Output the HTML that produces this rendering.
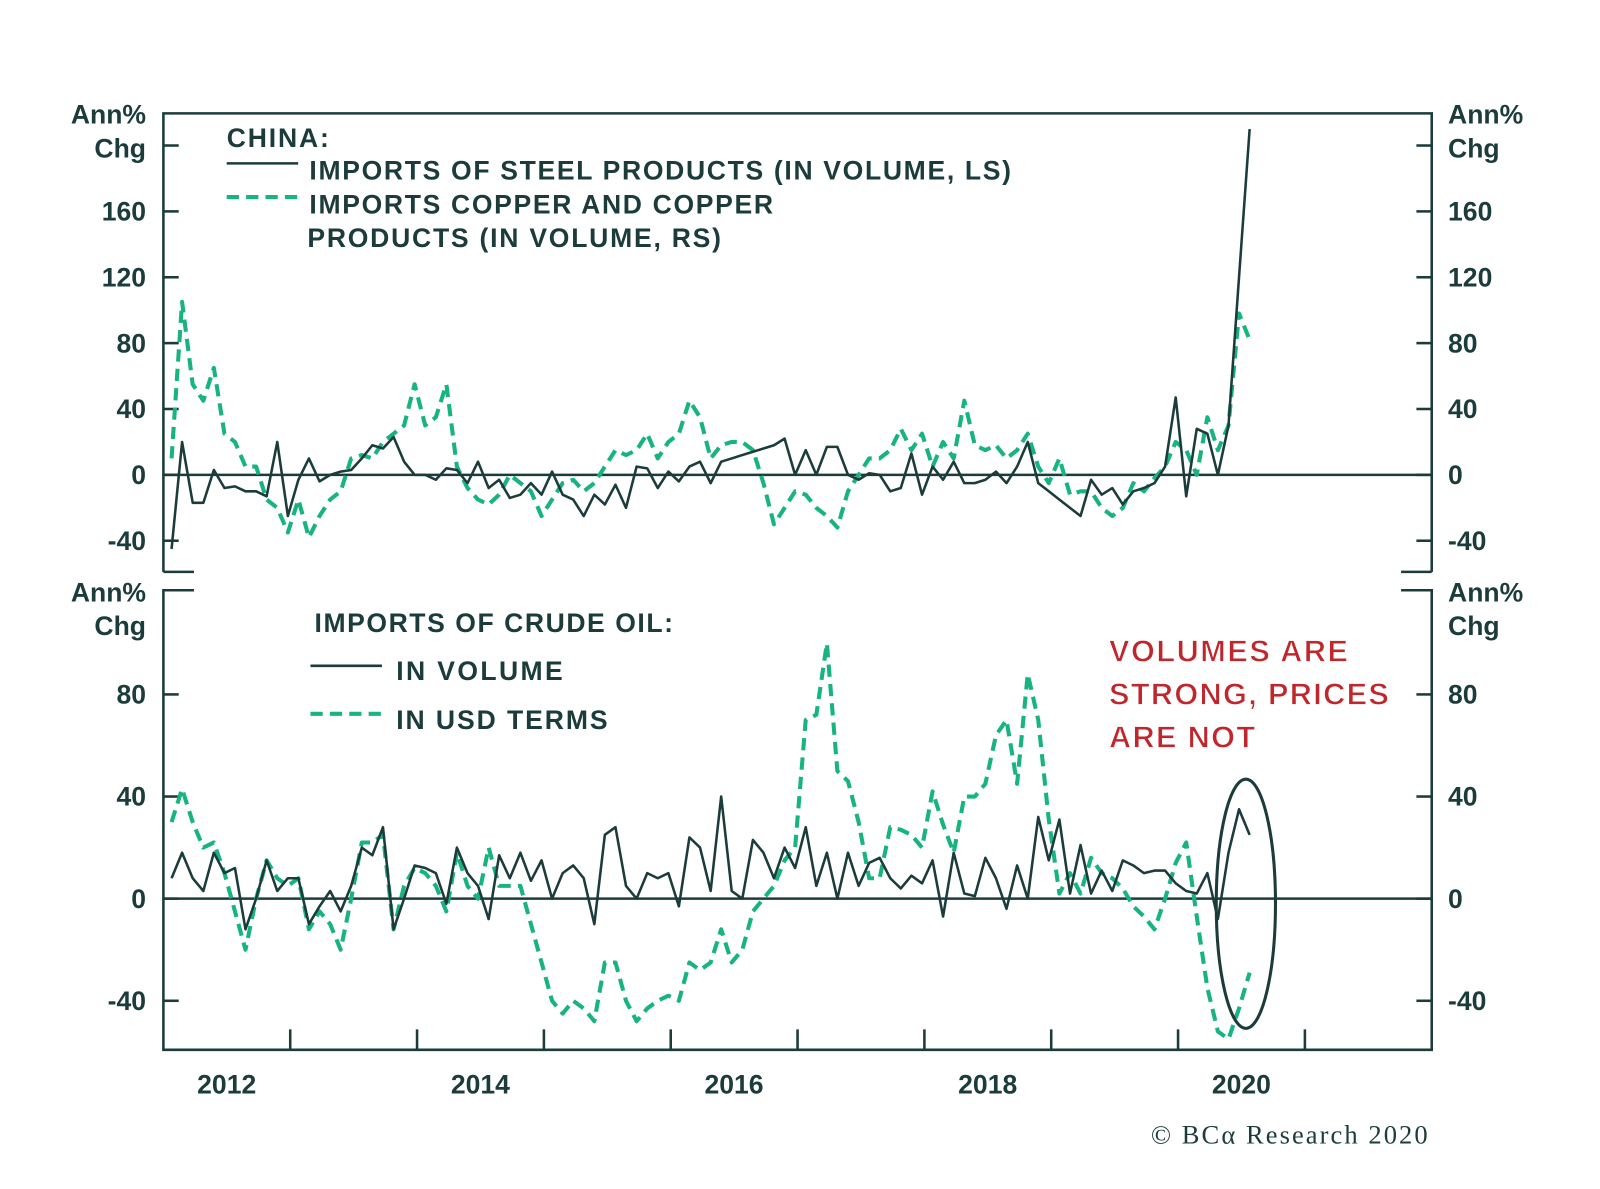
<!DOCTYPE html>
<html><head><meta charset="utf-8"><style>
html,body{margin:0;padding:0;background:#fff;}
svg{display:block;font-family:"Liberation Sans",sans-serif;}
</style></head><body>
<svg id="chart" width="1600" height="1189" viewBox="0 0 1600 1189" xmlns="http://www.w3.org/2000/svg"><g id="root" transform="scale(1.0212)"></g></svg>
<script>
// ---- data ----
const years = ['2012','2014','2016','2018','2020'];
const topTicks = [160,120,80,40,0,-40];
const botTicks = [80,40,0,-40];
const steelVolume = [-45,20,-17,-17,3,-8,-7,-10,-10,-13,20,-25,
 -3,10,-4,0,2,3,10,18,16,23,8,0,
 0,-3,4,3,-5,8,-8,-3,-14,-12,-5,-12,
 2,-12,-15,-25,-12,-18,-6,-20,5,4,-8,2,
 -4,5,8,-5,8,10,12,14,16,18,22,0,
 15,0,17,17,0,-3,1,0,-10,-8,13,-12,5,-3,8,-5,-5,-3,2,-5,5,20,
 -5,-10,-15,-20,-25,-3,-12,-8,-18,-10,-8,-5,5,47,-13,28,25,0,30,120,210];
const copperVolume = [10,105,55,45,65,25,20,5,5,-15,-20,-35,
 -15,-38,-25,-15,-10,10,12,10,20,25,30,55,
 30,35,55,5,-8,-15,-18,-12,0,-5,-10,-25,
 -15,-5,-3,-10,-5,5,15,12,15,25,10,20,
 25,45,35,10,18,20,20,15,-5,-30,-20,-10,
 -12,-20,-25,-32,-10,0,10,10,15,28,15,25,
 5,20,10,45,18,15,18,10,15,25,5,-5,
 10,-12,-10,-10,-20,-25,-20,-5,-10,-2,5,20,
 15,0,35,15,30,98,82];
const oilVolume = [8,18,8,3,18,10,12,-12,0,15,3,8,
 8,-10,-3,3,-5,5,20,17,28,-12,0,13,
 12,10,-2,20,10,5,-8,17,8,18,7,15,
 0,10,13,8,-10,25,28,5,0,10,8,10,
 -3,24,20,3,40,3,0,23,18,8,20,12,
 28,5,18,0,18,5,14,16,8,4,9,6,15,-7,18,2,1,16,8,-4,13,0,32,15,31,2,21,2,11,3,15,13,10,11,11,6,3,2,10,-8,18,35,25];
const oilUsd = [30,43,30,20,22,10,-5,-20,0,15,8,5,
 8,-12,-5,-10,-20,0,22,22,25,-12,5,12,
 10,5,-5,18,5,0,20,5,5,5,-10,-25,
 -40,-45,-40,-43,-48,-25,-25,-40,-48,-43,-40,-38,
 -40,-25,-28,-25,-12,-25,-20,-5,0,5,15,20,
 70,72,100,50,46,30,8,8,28,27,25,20,42,29,18,40,40,45,64,70,45,88,70,31,2,10,2,16,10,8,4,-3,-7,-12,0,14,22,-7,-35,-52,-55,-43,-29];

// ---- scales ----
const X0=160, X1=1402;
const yearX = y => X0 + (y-2012)*124.2;
const monthX = i => 168 + i*10.35;
const topY = v => 465 - v*1.6125;
const botY = v => 880 - v*2.5;
const DARK='#1c3c3c', GREEN='#17b482';
const NS='http://www.w3.org/2000/svg';
const root=document.getElementById('root');


function el(tag,attrs,parent){const e=document.createElementNS(NS,tag);for(const k in attrs)e.setAttribute(k,attrs[k]);(parent||root).appendChild(e);return e;}
function txt(s,x,y,attrs){const t=el('text',Object.assign({x:x,y:y,fill:DARK,'font-size':25,'font-weight':'bold'},attrs||{}));t.textContent=s;return t;}
function fit(t,len){t.setAttribute('textLength',len);t.setAttribute('lengthAdjust','spacing');return t;}

// frames
const frame=el('path',{d:`M${X0},560 L${X0},111 L${X1},111 L${X1},560 M${X0},560 L190,560 M${X1},560 L1372,560
 M190,578 L${X0},578 L${X0},1028 L${X1},1028 L${X1},578 L1372,578`,stroke:DARK,'stroke-width':2.5,fill:'none'});



// zero lines
const z1=el('line',{x1:X0,x2:X1,y1:topY(0),y2:topY(0),stroke:DARK,'stroke-width':2.5});


const z2=el('line',{x1:X0,x2:X1,y1:botY(0),y2:botY(0),stroke:DARK,'stroke-width':2.5});



// y ticks
[200].concat(topTicks).forEach(v=>{
  el('line',{x1:X0,x2:X0+15,y1:topY(v),y2:topY(v),stroke:DARK,'stroke-width':2.5});
  el('line',{x1:X1-15,x2:X1,y1:topY(v),y2:topY(v),stroke:DARK,'stroke-width':2.5});
});
topTicks.forEach(v=>{
  const a=txt(String(v),143,topY(v)+9,{'text-anchor':'end','font-size':26});
  
  
  const b=txt(String(v),1418,topY(v)+9,{'font-size':26});
  
  
});
botTicks.forEach(v=>{
  el('line',{x1:X0,x2:X0+15,y1:botY(v),y2:botY(v),stroke:DARK,'stroke-width':2.5});
  el('line',{x1:X1-15,x2:X1,y1:botY(v),y2:botY(v),stroke:DARK,'stroke-width':2.5});
  const a=txt(String(v),143,botY(v)+9,{'text-anchor':'end','font-size':26});
  
  
  const b=txt(String(v),1418,botY(v)+9,{'font-size':26});
  
  
});
// axis unit titles
[[143,112,'end','Ann%'],[143,145,'end','Chg'],[1418,112,'start','Ann%'],[1418,145,'start','Chg'],
 [143,580,'end','Ann%'],[143,613,'end','Chg'],[1418,580,'start','Ann%'],[1418,613,'start','Chg']].forEach(a=>{
  const t=txt(a[3],a[0],a[1]+9,{'text-anchor':a[2],'font-size':26});
  
  
});

// x ticks + labels
for(let y=2013;y<=2021;y++){
  el('line',{x1:yearX(y),x2:yearX(y),y1:1028,y2:1008,stroke:DARK,'stroke-width':2.5});
}
years.forEach(y=>{
  const t=txt(y,yearX(+y)+62,1071,{'text-anchor':'middle','font-size':26});
  
  
});

// series
function line(arr,yf,color,dash,name){
  const d=arr.map((v,i)=>(i?'L':'M')+monthX(i).toFixed(1)+','+yf(v).toFixed(1)).join(' ');
  const p=el('path',{d:d,fill:'none',stroke:color,'stroke-width':dash?4:2.5,'stroke-dasharray':dash?'12 7':'none','stroke-linejoin':'round'});
  
  
}
line(copperVolume,topY,GREEN,true,'copper-imports-line');
line(steelVolume,topY,DARK,false,'steel-imports-line');
line(oilUsd,botY,GREEN,true,'oil-usd-line');
line(oilVolume,botY,DARK,false,'oil-volume-line');

// legends
const l1=fit(txt('CHINA:',222,144,{'font-size':26}),100);


el('line',{x1:222,x2:292,y1:160,y2:160,stroke:DARK,'stroke-width':2.5});
el('line',{x1:222,x2:292,y1:193,y2:193,stroke:GREEN,'stroke-width':4,'stroke-dasharray':'12 7'});
const l2=fit(txt('IMPORTS OF STEEL PRODUCTS (IN VOLUME, LS)',303,176,{'font-size':26}),687);


const l3=fit(txt('IMPORTS COPPER AND COPPER',303,209,{'font-size':26}),454);


const l4=fit(txt('PRODUCTS (IN VOLUME, RS)',301,242,{'font-size':26}),405);


const l5=fit(txt('IMPORTS OF CRUDE OIL:',308,619,{'font-size':26}),351);


el('line',{x1:304,x2:374,y1:652,y2:652,stroke:DARK,'stroke-width':2.5});
el('line',{x1:304,x2:374,y1:699,y2:699,stroke:GREEN,'stroke-width':4,'stroke-dasharray':'12 7'});
const l6=fit(txt('IN VOLUME',388,666,{'font-size':26}),163);


const l7=fit(txt('IN USD TERMS',388,714,{'font-size':26}),207);



// annotation
[['VOLUMES ARE',234],['STRONG, PRICES',274],['ARE NOT',143]].forEach((s,i)=>{
  const t=fit(txt(s[0],1086,648+i*42,{fill:'#c0272d','font-size':30,'font-weight':'bold','stroke':'#fff','stroke-width':0.8}),s[1]);
  
  
});
const ell=el('ellipse',{cx:1220,cy:885,rx:29,ry:122,fill:'none',stroke:DARK,'stroke-width':3});



// copyright
const c=fit(el('text',{x:1127,y:1120,fill:DARK,'font-size':26,'font-family':'"Liberation Serif",serif'}),271);
c.textContent='© BCα Research 2020';


</script>
</body></html>
